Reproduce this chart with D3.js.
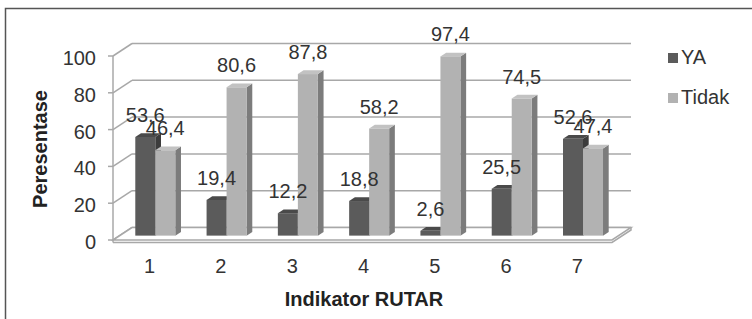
<!DOCTYPE html>
<html lang="en">
<head>
    <meta charset="UTF-8">
    <title>Indikator RUTAR</title>
    <script src="https://cdnjs.cloudflare.com/ajax/libs/d3/7.8.5/d3.min.js"></script>
    <style>
        body { margin: 0; background: #fff; }
        text { font-family: "Liberation Sans", Arial, sans-serif; fill: #333; }
    </style>
</head>
<body>
    <svg id="chart" width="752" height="319"></svg>

    <script>
        // data
        const categories = ["1", "2", "3", "4", "5", "6", "7"];
        const series = ["YA", "Tidak"];
        const ya = [53.6, 19.4, 12.2, 18.8, 2.6, 25.5, 52.6];
        const tidak = [46.4, 80.6, 87.8, 58.2, 97.4, 74.5, 47.4];
        const yTicks = [0, 20, 40, 60, 80, 100];

        const colors = {
            YA: { front: "#5b5b5b", top: "#4a4a4a", side: "#3c3c3c" },
            Tidak: { front: "#b2b2b2", top: "#c2c2c2", side: "#7c7c7c" }
        };

        const svg = d3.select("#chart");

        // front plane scales
        const y = d3.scaleLinear().domain([0, 100]).range([240, 56]);
        const x = d3.scaleBand().domain(categories).range([113, 612]);

        // depth offset: d=0 front, d=1 back wall
        const DX = 19, DY = -12.5;
        const off = (px, py, d) => [px + DX * d, py + DY * d];
        const line = d3.line();

        // outer frame
        svg.append("rect")
            .attr("x", 5.5).attr("y", 8.5)
            .attr("width", 800).attr("height", 400)
            .attr("fill", "none")
            .attr("stroke", "#555").attr("stroke-width", 1.5);

        const grid = svg.append("g")
            .attr("stroke", "#a8a8a8")
            .attr("stroke-width", 1.5)
            .attr("fill", "none");

        // back wall gridlines + side diagonals
        yTicks.forEach((t) => {
            const yf = y(t);
            grid.append("path").attr("d", line([off(113, yf, 1), off(612, yf, 1)]));
            grid.append("path").attr("d", line([[113, yf], off(113, yf, 1)]));
        });

        // floor
        grid.append("path")
            .attr("fill", "#fff")
            .attr("d", line([[113, y(0)], [612, y(0)], off(612, y(0), 1), off(113, y(0), 1)]) + "Z");
        grid.append("path")
            .attr("d", line([[113, y(0) + 2.5], [612, y(0) + 2.5], off(612, y(0) + 2.5, 1), off(612, y(0), 1)]));

        // front axis with ticks
        grid.append("path").attr("d", line([[113, y(100)], [113, y(0) + 2.5]]));
        yTicks.forEach((t) => {
            grid.append("path").attr("d", line([[108, y(t)], [113, y(t)]]));
        });

        svg.append("g")
            .selectAll("text")
            .data(yTicks)
            .join("text")
            .attr("x", 96)
            .attr("y", (d) => y(d) + 2)
            .attr("dy", "0.35em")
            .attr("text-anchor", "end")
            .attr("font-size", 20)
            .text((d) => d);

        // bars
        const D0 = 0.35, DEPTH = 0.3, BW = 20;
        const inner = d3.scaleBand().domain(series).range([-BW, BW]);
        const values = { YA: ya, Tidak: tidak };

        const bars = svg.append("g");
        categories.forEach((c, i) => {
            series.forEach((s) => {
                const v = values[s][i];
                const cx = x(c) + x.bandwidth() / 2 + inner(s);
                const [x0, yb] = off(cx, y(0), D0);
                const yt = yb - (y(0) - y(v));
                const x1 = x0 + BW;
                const ddx = DX * DEPTH, ddy = DY * DEPTH;
                const col = colors[s];

                bars.append("path")
                    .attr("fill", col.side)
                    .attr("d", line([[x1, yb], [x1, yt], [x1 + ddx, yt + ddy], [x1 + ddx, yb + ddy]]) + "Z");
                bars.append("path")
                    .attr("fill", col.top)
                    .attr("d", line([[x0, yt], [x1, yt], [x1 + ddx, yt + ddy], [x0 + ddx, yt + ddy]]) + "Z");
                bars.append("rect")
                    .attr("x", x0).attr("y", yt)
                    .attr("width", BW).attr("height", yb - yt)
                    .attr("fill", col.front);
            });
        });

        // data labels (pairs 1 and 7 overlap in the original too)
        const labels = svg.append("g");
        categories.forEach((c, i) => {
            series.forEach((s) => {
                const v = values[s][i];
                const cx = x(c) + x.bandwidth() / 2 + inner(s) + BW / 2;
                const [lx, yb] = off(cx, y(0), D0);
                const yt = yb - (y(0) - y(v));
                labels.append("text")
                    .attr("x", lx)
                    .attr("y", yt - 15)
                    .attr("text-anchor", "middle")
                    .attr("font-size", 20)
                    .text(String(v).replace(".", ","));
            });
        });

        // x tick labels
        svg.append("g")
            .selectAll("text")
            .data(categories)
            .join("text")
            .attr("x", (d) => x(d) + x.bandwidth() / 2 + 1)
            .attr("y", 273)
            .attr("text-anchor", "middle")
            .attr("font-size", 20)
            .text((d) => d);

        // axis titles
        svg.append("text")
            .attr("x", 364).attr("y", 306)
            .attr("text-anchor", "middle")
            .attr("font-size", 20)
            .attr("font-weight", "bold")
            .style("fill", "#222")
            .text("Indikator RUTAR");

        svg.append("text")
            .attr("transform", "translate(47,149) rotate(-90)")
            .attr("text-anchor", "middle")
            .attr("font-size", 20)
            .attr("font-weight", "bold")
            .style("fill", "#222")
            .text("Peresentase");

        // legend
        const legend = svg.append("g").attr("transform", "translate(668,53)");
        series.forEach((s, i) => {
            legend.append("rect")
                .attr("x", 0).attr("y", i * 40)
                .attr("width", 10).attr("height", 10)
                .attr("fill", colors[s].front);
            legend.append("text")
                .attr("x", 13).attr("y", i * 40 + 11)
                .attr("font-size", 20)
                .text(s);
        });
    </script>
</body>
</html>
